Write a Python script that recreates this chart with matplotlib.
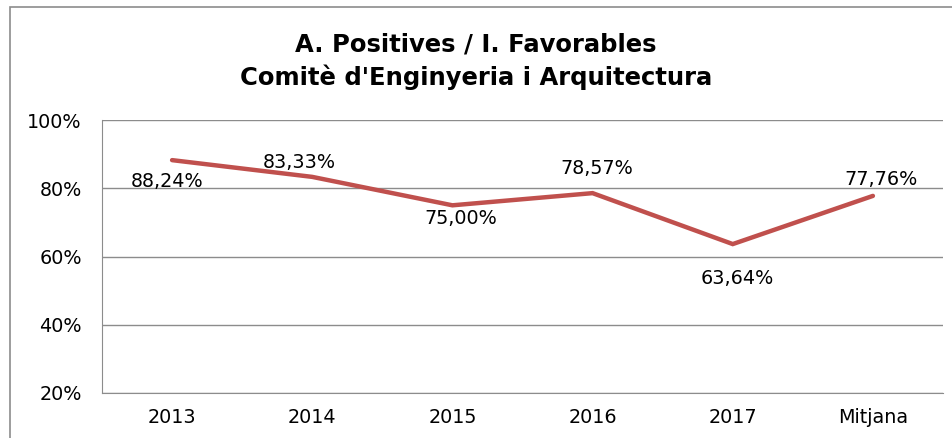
import matplotlib.pyplot as plt
from matplotlib.patches import Rectangle

categories = ['2013', '2014', '2015', '2016', '2017', 'Mitjana']
values = [88.24, 83.33, 75.00, 78.57, 63.64, 77.76]
labels = ['88,24%', '83,33%', '75,00%', '78,57%', '63,64%', '77,76%']
yticks = [20, 40, 60, 80, 100]

# label offsets from each point, in pixels (dx, dy; positive dy = down)
label_off = [(-5, 21), (-13, -14), (8, 13), (4, -25), (5, 34), (8, -16)]

W, H = 952, 438
fig = plt.figure(figsize=(W / 100, H / 100), dpi=100)
px = 72 / 100  # pixels -> points

# outer chart border (cut off on right and bottom like the source)
fig.patches.append(Rectangle((10 / W, -0.1), 1.1, 1 - 7 / H + 0.1,
                             transform=fig.transFigure, fill=False,
                             edgecolor='#8c8c8c', linewidth=1.2))

ax = fig.add_axes([102 / W, (H - 393) / H, (943 - 102) / W, (393 - 120) / H])
x = list(range(len(categories)))
ax.plot(x, values, color='#C0504D', linewidth=3.2, solid_capstyle='round',
        solid_joinstyle='miter', zorder=3)

for xi, v, lab, (dx, dy) in zip(x, values, labels, label_off):
    ax.annotate(lab, (xi, v), xytext=(dx * px, -dy * px),
                textcoords='offset points', ha='center', va='center',
                fontsize=13.8, color='black')

ax.set_xlim(-0.5, len(categories) - 0.5)
ax.set_ylim(20, 100)
ax.set_yticks(yticks)
ax.set_yticklabels([f'{t}%' for t in yticks], fontsize=13.8)
ax.set_xticks(x)
ax.set_xticklabels(categories, fontsize=13.8)
ax.yaxis.grid(True, color='#8c8c8c', linewidth=1.0)
ax.set_axisbelow(True)
for s in ['top', 'right']:
    ax.spines[s].set_visible(False)
for s in ['left', 'bottom']:
    ax.spines[s].set_color('#8c8c8c')
ax.tick_params(axis='y', length=0, pad=14.5)
ax.tick_params(axis='x', length=0, pad=11)

fig.text(0.5, 1 - 45 / H, 'A. Positives / I. Favorables',
         ha='center', va='center', fontsize=17.5, fontweight='bold')
fig.text(0.5, 1 - 77 / H, "Comitè d'Enginyeria i Arquitectura",
         ha='center', va='center', fontsize=17.5, fontweight='bold')

fig.savefig('out.png', dpi=100)
